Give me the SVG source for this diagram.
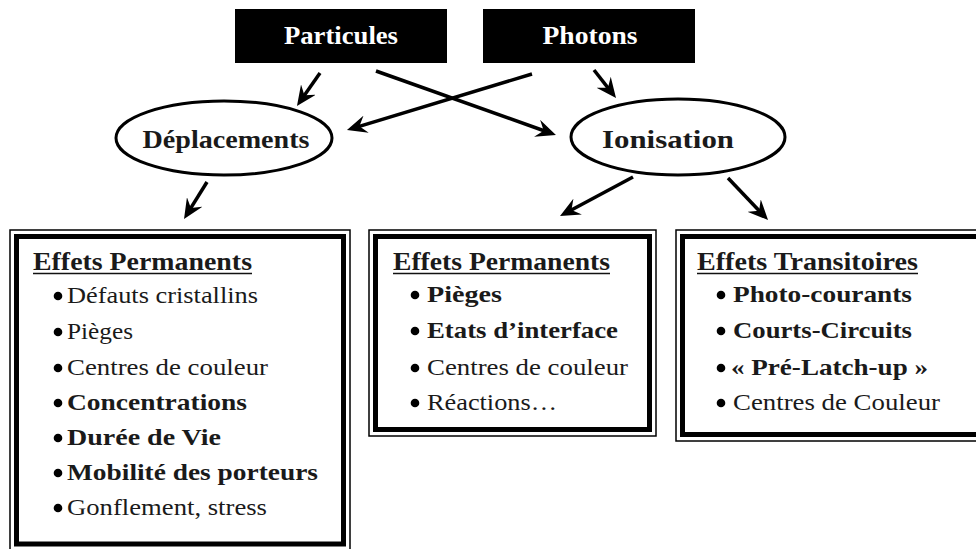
<svg xmlns="http://www.w3.org/2000/svg" width="976" height="549" viewBox="0 0 976 549">
<defs>
<marker id="ah" viewBox="0 0 20 18" markerWidth="20" markerHeight="18" markerUnits="userSpaceOnUse" refX="14" refY="9" orient="auto">
<path d="M0,0 L20,9 L0,18 L7,9 Z" fill="#000"/>
</marker>
<style>
text{font-family:"Liberation Serif","Times New Roman",serif;fill:#1a1a1a}
.src{fill:#000}
.srct{fill:#fff;font-weight:bold;font-size:25px}
.ell{fill:#fff;stroke:#000;stroke-width:3}
.et{font-size:25px;font-weight:bold}
.thin{fill:none;stroke:#000;stroke-width:1.5}
.thick{fill:#fff;stroke:#000;stroke-width:5}
.title{font-size:25px;font-weight:bold}
.ul{stroke:#111;stroke-width:1.5}
.it{font-size:23px}
.b{font-weight:bold;font-size:24px}
.dot{fill:#000}
.arr{stroke:#000;stroke-width:3.5;fill:none;marker-end:url(#ah)}
</style>
</defs>
<rect width="976" height="549" fill="#fff"/>

<g id="particules">
<rect class="src" x="235" y="9" width="212" height="54"/>
<text class="srct" x="341" y="44" text-anchor="middle" textLength="114" lengthAdjust="spacingAndGlyphs">Particules</text>
</g>
<g id="photons">
<rect class="src" x="483" y="9" width="212" height="54"/>
<text class="srct" x="590" y="44" text-anchor="middle" textLength="95" lengthAdjust="spacingAndGlyphs">Photons</text>
</g>

<g id="deplacements">
<ellipse class="ell" cx="224" cy="138" rx="108" ry="37"/>
<text class="et" x="226" y="148" text-anchor="middle" textLength="167" lengthAdjust="spacingAndGlyphs">Déplacements</text>
</g>
<g id="ionisation">
<ellipse class="ell" cx="678" cy="137" rx="107" ry="38"/>
<text class="et" x="668" y="148" text-anchor="middle" textLength="132" lengthAdjust="spacingAndGlyphs">Ionisation</text>
</g>

<g id="connectors">
<line class="arr" x1="320" y1="73" x2="300.4" y2="101.1"/>
<line class="arr" x1="376" y1="71" x2="550.3" y2="133"/>
<line class="arr" x1="532" y1="74" x2="352.7" y2="128.3"/>
<line class="arr" x1="594" y1="70" x2="612.3" y2="93.3"/>
<line class="arr" x1="207" y1="182" x2="187.2" y2="213.9"/>
<line class="arr" x1="633" y1="177" x2="565.3" y2="213.2"/>
<line class="arr" x1="728" y1="178" x2="763.9" y2="215.7"/>
</g>

<g id="box-deplacements-permanents">
<rect class="thin" x="10" y="230" width="340" height="320"/>
<rect class="thick" x="16.5" y="236.5" width="327" height="307.5"/>
<text class="title" x="33" y="270" textLength="219" lengthAdjust="spacingAndGlyphs">Effets Permanents</text>
<line class="ul" x1="33" y1="273.5" x2="252" y2="273.5"/>
<circle class="dot" cx="58" cy="296" r="4.3"/>
<text class="it" x="67" y="303" textLength="191" lengthAdjust="spacingAndGlyphs">Défauts cristallins</text>
<circle class="dot" cx="58" cy="332" r="4.3"/>
<text class="it" x="67" y="339" textLength="66" lengthAdjust="spacingAndGlyphs">Pièges</text>
<circle class="dot" cx="58" cy="368" r="4.3"/>
<text class="it" x="67" y="375" textLength="201" lengthAdjust="spacingAndGlyphs">Centres de couleur</text>
<circle class="dot" cx="58" cy="403" r="4.3"/>
<text class="b" x="67" y="410" textLength="180" lengthAdjust="spacingAndGlyphs">Concentrations</text>
<circle class="dot" cx="58" cy="438" r="4.3"/>
<text class="b" x="67" y="445" textLength="154" lengthAdjust="spacingAndGlyphs">Durée de Vie</text>
<circle class="dot" cx="58" cy="473" r="4.3"/>
<text class="b" x="67" y="480" textLength="251" lengthAdjust="spacingAndGlyphs">Mobilité des porteurs</text>
<circle class="dot" cx="58" cy="508" r="4.3"/>
<text class="it" x="67" y="515" textLength="200" lengthAdjust="spacingAndGlyphs">Gonflement, stress</text>
</g>

<g id="box-ionisation-permanents">
<rect class="thin" x="369" y="230" width="287" height="206"/>
<rect class="thick" x="375.5" y="236.5" width="274" height="193"/>
<text class="title" x="393" y="270" textLength="217" lengthAdjust="spacingAndGlyphs">Effets Permanents</text>
<line class="ul" x1="393" y1="273.5" x2="610" y2="273.5"/>
<circle class="dot" cx="415" cy="295" r="4.3"/>
<text class="b" x="427" y="302" textLength="75" lengthAdjust="spacingAndGlyphs">Pièges</text>
<circle class="dot" cx="415" cy="331" r="4.3"/>
<text class="b" x="427" y="338" textLength="191" lengthAdjust="spacingAndGlyphs">Etats d’interface</text>
<circle class="dot" cx="415" cy="368" r="4.3"/>
<text class="it" x="427" y="375" textLength="201" lengthAdjust="spacingAndGlyphs">Centres de couleur</text>
<circle class="dot" cx="415" cy="403" r="4.3"/>
<text class="it" x="427" y="410" textLength="130" lengthAdjust="spacingAndGlyphs">Réactions…</text>
</g>

<g id="box-ionisation-transitoires">
<rect class="thin" x="676" y="230" width="330" height="211"/>
<rect class="thick" x="682.5" y="236.5" width="317" height="198"/>
<text class="title" x="697" y="270" textLength="221" lengthAdjust="spacingAndGlyphs">Effets Transitoires</text>
<line class="ul" x1="697" y1="273.5" x2="918" y2="273.5"/>
<circle class="dot" cx="721" cy="295" r="4.3"/>
<text class="b" x="733" y="302" textLength="179" lengthAdjust="spacingAndGlyphs">Photo-courants</text>
<circle class="dot" cx="721" cy="331" r="4.3"/>
<text class="b" x="733" y="338" textLength="179" lengthAdjust="spacingAndGlyphs">Courts-Circuits</text>
<circle class="dot" cx="721" cy="368" r="4.3"/>
<text class="b" x="731" y="375" textLength="197" lengthAdjust="spacingAndGlyphs">« Pré-Latch-up »</text>
<circle class="dot" cx="721" cy="403" r="4.3"/>
<text class="it" x="733" y="410" textLength="207" lengthAdjust="spacingAndGlyphs">Centres de Couleur</text>
</g>
</svg>
